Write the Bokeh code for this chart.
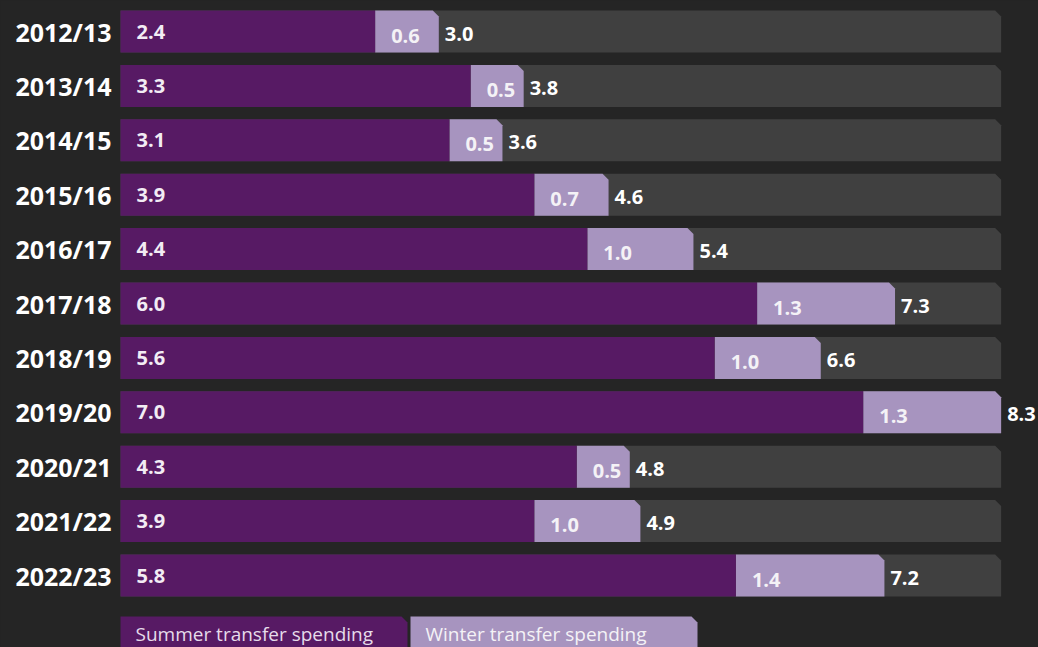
from bokeh.plotting import figure
from bokeh.models import Range1d
from bokeh.core.properties import value
from bokeh.embed import file_html
from bokeh.resources import INLINE

# ---- data ----
years = ["2012/13", "2013/14", "2014/15", "2015/16", "2016/17", "2017/18",
         "2018/19", "2019/20", "2020/21", "2021/22", "2022/23"]
summer = [2.4, 3.3, 3.1, 3.9, 4.4, 6.0, 5.6, 7.0, 4.3, 3.9, 5.8]
winter = [0.6, 0.5, 0.5, 0.7, 1.0, 1.3, 1.0, 1.3, 0.5, 1.0, 1.4]
total = [3.0, 3.8, 3.6, 4.6, 5.4, 7.3, 6.6, 8.3, 4.8, 4.9, 7.2]
legend_labels = ["Summer transfer spending", "Winter transfer spending"]

# ---- layout / style ----
W, H = 1038, 647
PX = 106.1            # pixels per unit
LEFT = 120            # px of value 0
ROW0, PITCH, BH = 10.0, 54.4, 42.0
CUT = 6.0             # chamfer size in px
BG = "#252525"
GRAY = "#404040"
PURPLE = "#571a64"
LILAC = "#a794bf"
FONT = value("Open Sans")

cx = CUT / PX

p = figure(width=W, height=H, x_range=Range1d(-LEFT / PX, (W - LEFT) / PX),
           y_range=Range1d(H, 0), min_border=0, toolbar_location=None,
           output_backend="svg", background_fill_color=BG, border_fill_color=BG,
           outline_line_color=None)
p.axis.visible = False
p.xgrid.visible = False
p.ygrid.visible = False


def chamfer(a, b, t, h):
    return [a, b - cx, b, b, a], [t, t, t + CUT, t + h, t + h]


tops = [ROW0 + i * PITCH for i in range(len(years))]
mids = [t + BH / 2 for t in tops]
vmax = max(total)

# background bars
gx, gy = [], []
for t in tops:
    xs, ys = chamfer(0, vmax, t, BH)
    gx.append(xs)
    gy.append(ys)
p.patches(gx, gy, fill_color=GRAY, line_color=None)

# winter segments
wx, wy = [], []
for s, w, t in zip(summer, winter, tops):
    xs, ys = chamfer(s, s + w, t, BH)
    wx.append(xs)
    wy.append(ys)
p.patches(wx, wy, fill_color=LILAC, line_color=None)

# summer segments
p.quad(left=[0] * len(summer), right=summer, top=tops, bottom=[t + BH for t in tops],
       fill_color=PURPLE, line_color=None)

# year labels
p.text(x=[0] * len(years), y=mids, text=years, text_font=FONT, text_font_style="bold",
       text_font_size="25px", text_align="right", text_baseline="middle",
       text_color="#ffffff", x_offset=-9)

# summer labels
p.text(x=[0] * len(summer), y=mids, text=[f"{v:.1f}" for v in summer], text_font=FONT,
       text_font_style="bold", text_font_size="20px", text_align="left",
       text_baseline="middle", text_color="#f2ecf4", x_offset=16)

# winter labels
p.text(x=summer, y=[m + 4 for m in mids], text=[f"{v:.1f}" for v in winter], text_font=FONT,
       text_font_style="bold", text_font_size="20px", text_align="left",
       text_baseline="middle", text_color="#f4f2f6", x_offset=16)

# total labels
p.text(x=total, y=[m + 2 for m in mids], text=[f"{v:.1f}" for v in total], text_font=FONT,
       text_font_style="bold", text_font_size="20px", text_align="left",
       text_baseline="middle", text_color="#ffffff", x_offset=6)

# legend
LT = 616
leg_x = [(0, (407 - 120) / PX), ((410 - 120) / PX, (697 - 120) / PX)]
lx, ly = [], []
for a, b in leg_x:
    xs, ys = chamfer(a, b, LT, 40)
    lx.append(xs)
    ly.append(ys)
p.patches(lx, ly, fill_color=[PURPLE, LILAC], line_color=None)
p.text(x=[a for a, b in leg_x], y=[633, 633], text=legend_labels, text_font=FONT,
       text_font_size="19px", text_align="left", text_baseline="middle",
       text_color=["#e6dcea", "#f4f2f6"], x_offset=15)

html = file_html(p, INLINE)
html = html.replace("<head>", "<head><style>html,body{background:#252525;}</style>", 1)
open("out.html", "w").write(html)
